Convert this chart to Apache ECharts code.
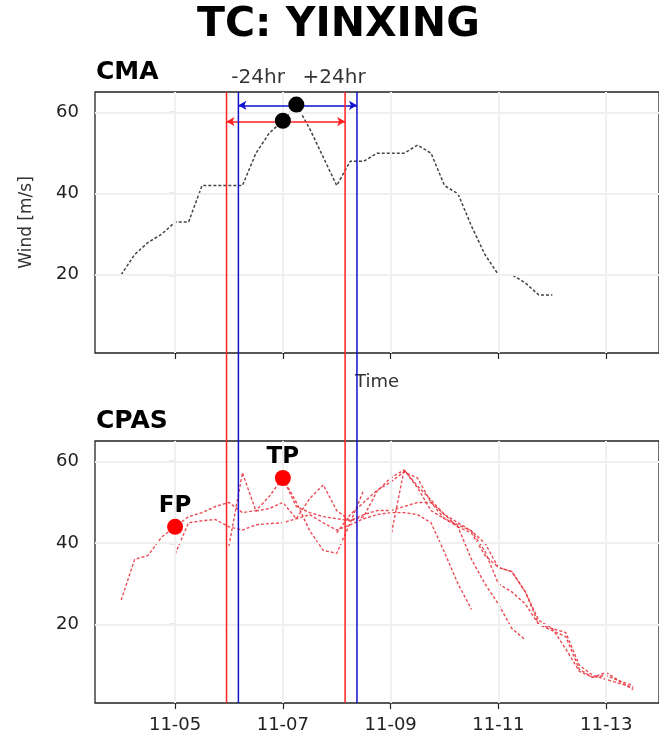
<!DOCTYPE html>
<html>
<head>
<meta charset="utf-8">
<script src="https://cdn.jsdelivr.net/npm/echarts@6/dist/echarts.min.js"></script>
<style>
html,body{margin:0;padding:0;background:#fff;}
#chart{width:659px;height:746px;}
</style>
</head>
<body>
<div id="chart"></div>
<script>
// ---------- DATA ----------
// Day 0 = 11-05 00:00; 6-hourly sampling
const tickDays = [0, 2, 4, 6, 8];
const tickLabels = ['11-05', '11-07', '11-09', '11-11', '11-13'];
const yTicks = [20, 40, 60];

// CMA best track (6-hourly from 11-04 00)
const cmaStart = '11-04 00';
const cmaWind = [20, 25, 28, 30, 33, 33, 42, 42, 42, 42, 50, 55, 58, 62, 56, 49, 42,
                 48, 48, 50, 50, 50, 52, 50, 42, 40, 32, 25, 20, 20, 18, 15, 15];
const cmaMarkTimes = ['11-07 00', '11-07 06'];
const cmaMarkWind = [58, 62];

// CPAS forecasts (6-hourly from their start times)
const cpasStarts = ['11-04 00', '11-05 00', '11-06 00', '11-07 00', '11-08 00', '11-09 00'];
const cpasA = [26, 36, 37, 41.5, 44, 46.5, 47.5, 49, 50, 47.5, 48, 51.5, 56, 50, 43, 38.2, 37.5, 45, 53];
const cpasB = [37.3, 45, 45.5, 45.8, 44, 43.2, 44.5, 44.8, 45, 46, 47, 45, 43.2, 44.5, 46, 47, 47.5, 47.5, 47, 45, 37.7, 30, 23.7];
const cpasC = [39.3, 57.3, 47.9, 48.5, 50, 46, 51, 54.3, 48, 45.5, 46.5, 52.8, 56, 58, 53.6, 48, 46, 44, 36, 30, 25, 19, 16.2];
const cpasD = [56, 49, 47.5, 46.5, 46, 45.5, 47, 48, 48, 49, 50, 50, 46, 44.5, 43, 40, 34, 33, 28, 20, 18.5, 17, 9, 7, 7.5, 6, 4];
const cpasE = [42.5, 47, 50, 53, 55, 57.5, 56, 50, 47, 44, 42.5, 37, 34, 33, 28, 21, 19, 14, 8.5, 7, 8.2, 6.1, 5];
const cpasF = [41.4, 58, 54, 50.6, 47, 45, 43, 38, 30, 28, 25, 20, 19, 18, 10, 7.5, 6.5, 5.5, 4.5];
const cpasTracks = [cpasA, cpasB, cpasC, cpasD, cpasE, cpasF];

const cpasPointNames = ['FP', 'TP'];
const cpasPointTimes = ['11-05 00', '11-07 00'];
const cpasPointWind = [44, 56];

// Time windows (days, relative to 11-05 00)
const redWindow = [0.955, 3.155];
const blueWindow = [1.175, 3.375];
const redArrowWind = 57.8;
const blueArrowWind = 61.8;
const windowLabels = ['-24hr', '+24hr'];
const windowLabelDays = [1.54, 2.95];

// ---------- HELPERS ----------
function toDay(s) {
  const [md, hh] = s.split(' ');
  const dd = parseInt(md.split('-')[1], 10);
  return (dd - 5) + parseInt(hh, 10) / 24;
}
function series6h(start, vals) {
  const d0 = toDay(start);
  return vals.map((v, i) => [d0 + i * 0.25, v]);
}

const X_MIN = -1.486, X_MAX = 8.98;
const Y_MIN = 0.7, Y_MAX = 65.1;
const FONT = 'DejaVu Sans';

function xAxisBase(idx, showLabels, name) {
  return {
    type: 'value', gridIndex: idx, min: X_MIN, max: X_MAX,
    axisLine: { show: false },
    axisTick: { show: true, inside: false, length: 6, customValues: tickDays,
                lineStyle: { color: '#222', width: 1.2 } },
    axisLabel: { show: showLabels, customValues: tickDays, margin: 13,
                 fontFamily: FONT, fontSize: 18, color: '#222',
                 formatter: v => tickLabels[tickDays.indexOf(Math.round(v))] || '' },
    splitLine: { show: false },
    name: name || '', nameLocation: 'middle', nameGap: 20,
    nameTextStyle: { fontFamily: FONT, fontSize: 18, color: '#333' }
  };
}
function yAxisBase(idx, name) {
  return {
    type: 'value', gridIndex: idx, min: Y_MIN, max: Y_MAX,
    axisLine: { show: false },
    axisTick: { show: true, inside: false, length: 6, customValues: yTicks,
                lineStyle: { color: '#222', width: 1.2 } },
    axisLabel: { show: true, customValues: yTicks, margin: 16,
                 fontFamily: FONT, fontSize: 18, color: '#222' },
    splitLine: { show: false },
    name: name || '', nameLocation: 'middle', nameGap: 60, nameRotate: 90,
    nameTextStyle: { fontFamily: FONT, fontSize: 17, color: '#333' }
  };
}

const gridLineStyle = { color: '#f0f0f0', width: 2, type: 'solid' };
function gridLinesSeries(xi, yi) {
  return {
    type: 'line', xAxisIndex: xi, yAxisIndex: yi, data: [], silent: true, z: 0,
    markLine: {
      silent: true, symbol: ['none', 'none'], label: { show: false },
      lineStyle: gridLineStyle, animation: false,
      data: tickDays.map(d => ({ xAxis: d })).concat(yTicks.map(v => ({ yAxis: v })))
    }
  };
}

const cpasSeries = cpasTracks.map((vals, k) => ({
  type: 'line', xAxisIndex: 1, yAxisIndex: 1,
  data: series6h(cpasStarts[k], vals),
  symbol: 'none', smooth: false, z: 3,
  lineStyle: { color: 'rgba(230,45,55,0.85)', width: 1.4, type: [3, 2] }
}));

function vline(day, color) {
  return {
    type: 'line', xAxisIndex: 2, yAxisIndex: 2, data: [[day, 0], [day, 1]],
    symbol: 'none', z: 6, lineStyle: { color: color, width: 1.5 }
  };
}
function arrow(win, y, color) {
  return {
    type: 'line', xAxisIndex: 0, yAxisIndex: 0, data: [], z: 6,
    markLine: {
      silent: true, symbol: ['arrow', 'arrow'], symbolSize: [7, 8],
      label: { show: false }, animation: false,
      lineStyle: { color: color, width: 1.5, type: 'solid' },
      data: [[{ coord: [win[0], y] }, { coord: [win[1], y] }]]
    }
  };
}

const option = {
  animation: false,
  backgroundColor: '#fff',
  title: [
    { text: 'TC: YINXING', left: 197, top: 5, padding: 0,
      textStyle: { fontFamily: FONT, fontSize: 41, fontWeight: 'bold', color: '#000' } },
    { text: 'CMA', left: 96, top: 60, padding: 0,
      textStyle: { fontFamily: FONT, fontSize: 25, fontWeight: 'bold', color: '#000' } },
    { text: 'CPAS', left: 96, top: 409, padding: 0,
      textStyle: { fontFamily: FONT, fontSize: 25, fontWeight: 'bold', color: '#000' } }
  ],
  grid: [
    { left: 95, top: 92, width: (X_MAX - X_MIN) * 54.5, height: 261, show: true,
      borderColor: '#222', borderWidth: 1.3, backgroundColor: 'transparent' },
    { left: 95, top: 441, width: (X_MAX - X_MIN) * 54.5, height: 262, show: true,
      borderColor: '#222', borderWidth: 1.3, backgroundColor: 'transparent' },
    { left: 95, top: 92, width: (X_MAX - X_MIN) * 54.5, height: 611, show: false }
  ],
  xAxis: [
    xAxisBase(0, false, 'Time'),
    xAxisBase(1, true, ''),
    { type: 'value', gridIndex: 2, min: X_MIN, max: X_MAX, show: false }
  ],
  yAxis: [
    yAxisBase(0, 'Wind [m/s]'),
    yAxisBase(1, ''),
    { type: 'value', gridIndex: 2, min: 0, max: 1, show: false }
  ],
  series: [
    gridLinesSeries(0, 0),
    gridLinesSeries(1, 1),
    {
      type: 'line', xAxisIndex: 0, yAxisIndex: 0,
      data: series6h(cmaStart, cmaWind), symbol: 'none', z: 3,
      lineStyle: { color: '#444', width: 1.5, type: [3, 2] }
    },
    {
      type: 'scatter', xAxisIndex: 0, yAxisIndex: 0, z: 8,
      data: cmaMarkTimes.map((t, i) => [toDay(t), cmaMarkWind[i]]),
      symbolSize: 16, itemStyle: { color: '#000', opacity: 1 }
    },
    ...cpasSeries,
    {
      type: 'scatter', xAxisIndex: 1, yAxisIndex: 1, z: 8,
      data: cpasPointTimes.map((t, i) => ({ value: [toDay(t), cpasPointWind[i]], name: cpasPointNames[i] })),
      symbolSize: 16, itemStyle: { color: '#ff0000', opacity: 1 },
      label: { show: true, position: 'top', distance: 1, formatter: p => p.name,
               fontFamily: FONT, fontSize: 23, fontWeight: 'bold', color: '#000' }
    },
    vline(redWindow[0], '#ff2020'),
    vline(redWindow[1], '#ff2020'),
    vline(blueWindow[0], '#1010d0'),
    vline(blueWindow[1], '#1010d0'),
    arrow(redWindow, redArrowWind, '#ff2020'),
    arrow(blueWindow, blueArrowWind, '#1010d0'),
    {
      type: 'scatter', xAxisIndex: 0, yAxisIndex: 0, clip: false, z: 9,
      data: windowLabelDays.map((d, i) => ({ value: [d, 68.5], name: windowLabels[i] })),
      symbolSize: 1, itemStyle: { color: 'rgba(0,0,0,0)' },
      label: { show: true, position: 'inside', formatter: p => p.name,
               fontFamily: FONT, fontSize: 20, color: '#000' }
    }
  ]
};

const chart = echarts.init(document.getElementById('chart'), null, { renderer: 'canvas' });
chart.setOption(option);
</script>
</body>
</html>
